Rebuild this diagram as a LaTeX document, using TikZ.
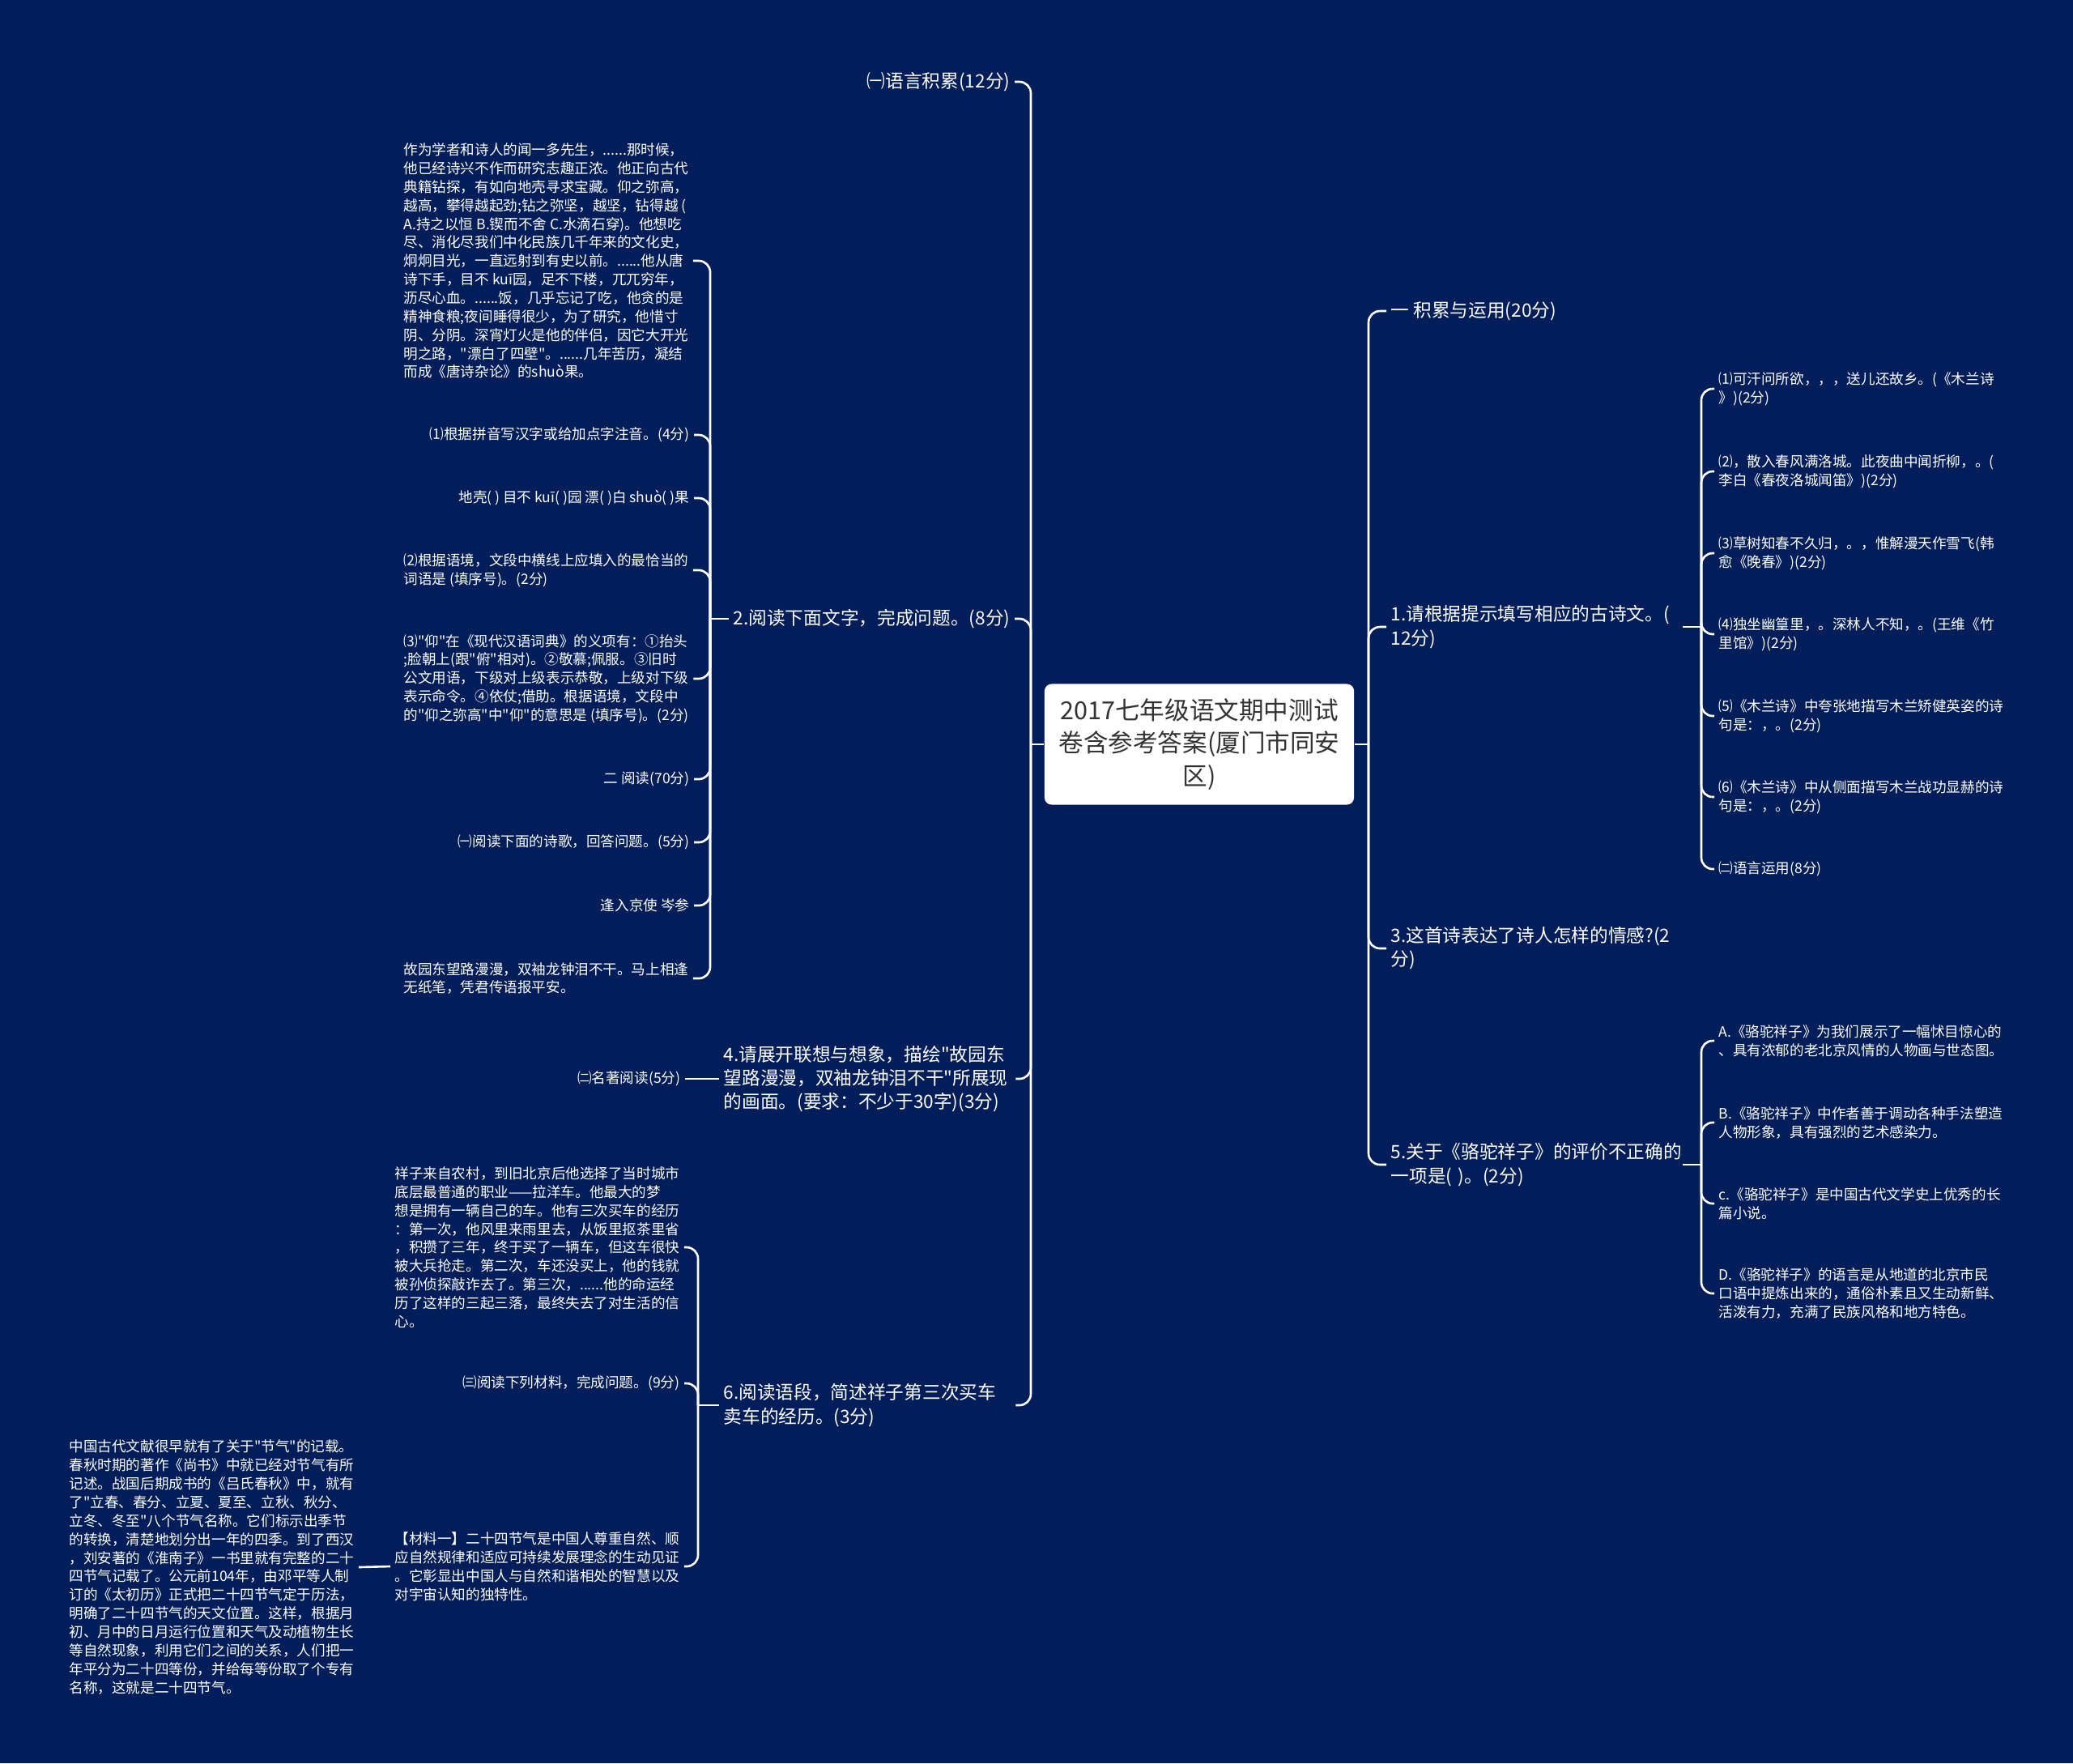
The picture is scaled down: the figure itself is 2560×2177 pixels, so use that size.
\documentclass[tikz,border=0pt]{standalone}
\usepackage{fontspec}
\setmainfont{Noto Sans CJK SC}[Ligatures=TeXOff]
\definecolor{navy}{RGB}{1,29,90}
\definecolor{rootgray}{RGB}{51,51,51}

\begin{document}
\begin{tikzpicture}[x=0.01cm, y=-0.01cm,
  root/.style={fill=white, rounded corners=2.5pt, text=rootgray, align=center,
               minimum width=3.82cm, minimum height=1.49cm, inner sep=0pt,
               font=\fontsize{8.7pt}{11.5pt}\selectfont},
  topic/.style={text=white, inner xsep=1.4pt, inner ysep=1pt,
                font=\fontsize{6.45pt}{8.3pt}\selectfont},
  leaf/.style={text=white, inner xsep=1.4pt, inner ysep=1pt,
               font=\fontsize{5pt}{6.5pt}\selectfont},
  link/.style={draw=white, line width=0.75pt, rounded corners=4pt}
]
  \fill[navy] (0,0) rectangle (2560,2177);

  % centre
  \node[root] (root) at (1481,919) {2017七年级语文期中测试\\卷含参考答案(厦门市同安\\区)};

  % left branches
  \node[topic, anchor=east] (yyjl) at (1253,101) {㈠语言积累(12分)};
  \node[topic, anchor=east] (ydwz) at (1253,764) {2.阅读下面文字，完成问题。(8分)};
  \node[topic, anchor=west, align=left, text width=3.55cm] (zklx) at (888,1332)
    {4.请展开联想与想象，描绘"故园东\\望路漫漫，双袖龙钟泪不干"所展现\\的画面。(要求：不少于30字)(3分)};
  \node[topic, anchor=west, align=left, text width=3.55cm] (ydyd) at (888,1735)
    {6.阅读语段，简述祥子第三次买车\\卖车的经历。(3分)};

  % right branches
  \node[topic, anchor=west] (jlyy) at (1712,384) {一 积累与运用(20分)};
  \node[topic, anchor=west, align=left, text width=3.55cm] (gsw) at (1712,774)
    {1.请根据提示填写相应的古诗文。(\\12分)};
  \node[topic, anchor=west, align=left, text width=3.55cm] (qg) at (1712,1171)
    {3.这首诗表达了诗人怎样的情感?(2\\分)};
  \node[topic, anchor=west, align=left, text width=3.55cm] (ltxz) at (1712,1438)
    {5.关于《骆驼祥子》的评价不正确的\\一项是( )。(2分)};

  % poems to fill in
  \node[leaf, anchor=west, align=left] (gs1) at (2117,480)
    {⑴可汗问所欲，，，送儿还故乡。(《木兰诗\\》)(2分)};
  \node[leaf, anchor=west, align=left] (gs2) at (2117,582)
    {⑵，散入春风满洛城。此夜曲中闻折柳，。(\\李白《春夜洛城闻笛》)(2分)};
  \node[leaf, anchor=west, align=left] (gs3) at (2117,683)
    {⑶草树知春不久归，。，惟解漫天作雪飞(韩\\愈《晚春》)(2分)};
  \node[leaf, anchor=west, align=left] (gs4) at (2117,783)
    {⑷独坐幽篁里，。深林人不知，。(王维《竹\\里馆》)(2分)};
  \node[leaf, anchor=west, align=left] (gs5) at (2117,884)
    {⑸《木兰诗》中夸张地描写木兰矫健英姿的诗\\句是：，。(2分)};
  \node[leaf, anchor=west, align=left] (gs6) at (2117,984)
    {⑹《木兰诗》中从侧面描写木兰战功显赫的诗\\句是：，。(2分)};
  \node[leaf, anchor=west] (gs7) at (2117,1073) {㈡语言运用(8分)};

  % Luotuo Xiangzi options
  \node[leaf, anchor=west, align=left] (xz1) at (2117,1285)
    {A.《骆驼祥子》为我们展示了一幅怵目惊心的\\、具有浓郁的老北京风情的人物画与世态图。};
  \node[leaf, anchor=west, align=left] (xz2) at (2117,1386)
    {B.《骆驼祥子》中作者善于调动各种手法塑造\\人物形象，具有强烈的艺术感染力。};
  \node[leaf, anchor=west, align=left] (xz3) at (2117,1486)
    {c.《骆驼祥子》是中国古代文学史上优秀的长\\篇小说。};
  \node[leaf, anchor=west, align=left] (xz4) at (2117,1597)
    {D.《骆驼祥子》的语言是从地道的北京市民\\口语中提炼出来的，通俗朴素且又生动新鲜、\\活泼有力，充满了民族风格和地方特色。};

  % reading passage
  \node[leaf, anchor=west, align=left] (wz1) at (493,322)
    {作为学者和诗人的闻一多先生，......那时候，\\
     他已经诗兴不作而研究志趣正浓。他正向古代\\
     典籍钻探，有如向地壳寻求宝藏。仰之弥高，\\
     越高，攀得越起劲;钻之弥坚，越坚，钻得越 (\\
     A.持之以恒 B.锲而不舍 C.水滴石穿)。他想吃\\
     尽、消化尽我们中化民族几千年来的文化史，\\
     炯炯目光，一直远射到有史以前。......他从唐\\
     诗下手，目不 kuī园，足不下楼，兀兀穷年，\\
     沥尽心血。......饭，几乎忘记了吃，他贪的是\\
     精神食粮;夜间睡得很少，为了研究，他惜寸\\
     阴、分阴。深宵灯火是他的伴侣，因它大开光\\
     明之路，"漂白了四壁"。......几年苦历，凝结\\
     而成《唐诗杂论》的shuò果。};
  \node[leaf, anchor=east] (wz2) at (857,537) {⑴根据拼音写汉字或给加点字注音。(4分)};
  \node[leaf, anchor=east] (wz3) at (857,615) {地壳( ) 目不 kuī( )园 漂( )白 shuò( )果};
  \node[leaf, anchor=west, align=left] (wz4) at (493,704)
    {⑵根据语境，文段中横线上应填入的最恰当的\\词语是 (填序号)。(2分)};
  \node[leaf, anchor=west, align=left] (wz5) at (493,838)
    {⑶"仰"在《现代汉语词典》的义项有：①抬头\\
     ;脸朝上(跟"俯"相对)。②敬慕;佩服。③旧时\\
     公文用语，下级对上级表示恭敬，上级对下级\\
     表示命令。④依仗;借助。根据语境，文段中\\
     的"仰之弥高"中"仰"的意思是 (填序号)。(2分)};
  \node[leaf, anchor=east] (wz6) at (857,962) {二 阅读(70分)};
  \node[leaf, anchor=east] (wz7) at (857,1040) {㈠阅读下面的诗歌，回答问题。(5分)};
  \node[leaf, anchor=east] (wz8) at (857,1118) {逢入京使 岑参};
  \node[leaf, anchor=west, align=left] (wz9) at (493,1208)
    {故园东望路漫漫，双袖龙钟泪不干。马上相逢\\无纸笔，凭君传语报平安。};

  \node[leaf, anchor=east] (mz) at (846,1332) {㈡名著阅读(5分)};

  % Xiangzi and solar terms
  \node[leaf, anchor=west, align=left] (yd1) at (482,1540)
    {祥子来自农村，到旧北京后他选择了当时城市\\
     底层最普通的职业——拉洋车。他最大的梦\\
     想是拥有一辆自己的车。他有三次买车的经历\\
     ：第一次，他风里来雨里去，从饭里抠茶里省\\
     ，积攒了三年，终于买了一辆车，但这车很快\\
     被大兵抢走。第二次，车还没买上，他的钱就\\
     被孙侦探敲诈去了。第三次，......他的命运经\\
     历了这样的三起三落，最终失去了对生活的信\\
     心。};
  \node[leaf, anchor=east] (yd2) at (845,1708) {㈢阅读下列材料，完成问题。(9分)};
  \node[leaf, anchor=west, align=left] (yd3) at (482,1934)
    {【材料一】二十四节气是中国人尊重自然、顺\\
     应自然规律和适应可持续发展理念的生动见证\\
     。它彰显出中国人与自然和谐相处的智慧以及\\
     对宇宙认知的独特性。};
  \node[leaf, anchor=west, align=left] (jq) at (80,1935)
    {中国古代文献很早就有了关于"节气"的记载。\\
     春秋时期的著作《尚书》中就已经对节气有所\\
     记述。战国后期成书的《吕氏春秋》中，就有\\
     了"立春、春分、立夏、夏至、立秋、秋分、\\
     立冬、冬至"八个节气名称。它们标示出季节\\
     的转换，清楚地划分出一年的四季。到了西汉\\
     ，刘安著的《淮南子》一书里就有完整的二十\\
     四节气记载了。公元前104年，由邓平等人制\\
     订的《太初历》正式把二十四节气定于历法，\\
     明确了二十四节气的天文位置。这样，根据月\\
     初、月中的日月运行位置和天气及动植物生长\\
     等自然现象，利用它们之间的关系，人们把一\\
     年平分为二十四等份，并给每等份取了个专有\\
     名称，这就是二十四节气。};

  % connectors
  \draw[link] (root.west) -- (1273,919);
  \draw[link] (root.east) -- (1690,919);
  \foreach \n in {yyjl,ydwz,zklx,ydyd}
    \draw[link] (1273,919) |- (\n.east);
  \foreach \n in {jlyy,gsw,qg,ltxz}
    \draw[link] (1690,919) |- (\n.west);
  \draw[link] (gsw.east) -- (2101,774);
  \foreach \n in {gs1,gs2,gs3,gs4,gs5,gs6,gs7}
    \draw[link] (2101,774) |- (\n.west);
  \draw[link] (ltxz.east) -- (2101,1438);
  \foreach \n in {xz1,xz2,xz3,xz4}
    \draw[link] (2101,1438) |- (\n.west);
  \draw[link] (ydwz.west) -- (877,764);
  \foreach \n in {wz1,wz2,wz3,wz4,wz5,wz6,wz7,wz8,wz9}
    \draw[link] (877,764) |- (\n.east);
  \draw[link] (mz.east) -- (zklx.west);
  \draw[link] (ydyd.west) -- (862,1735);
  \foreach \n in {yd1,yd2,yd3}
    \draw[link] (862,1735) |- (\n.east);
  \draw[link] (jq.east) -- (yd3.west);
\end{tikzpicture}
\end{document}
